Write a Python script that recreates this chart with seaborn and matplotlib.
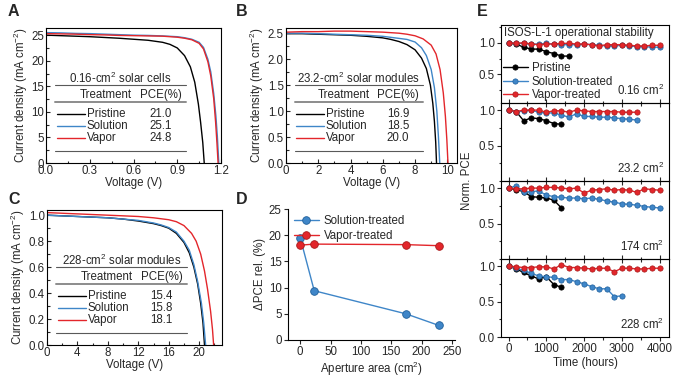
import matplotlib
matplotlib.use('Agg')
import matplotlib.pyplot as plt
from matplotlib.ticker import MultipleLocator
import pandas as pd
import seaborn as sns

sns.set_style('ticks')
plt.rcParams['font.family'] = ['Liberation Sans', 'DejaVu Sans']
plt.rcParams['mathtext.default'] = 'regular'
plt.rcParams['font.size'] = 8.3
plt.rcParams['axes.linewidth'] = 0.8
plt.rcParams['axes.edgecolor'] = 'black'

FS = 8.3
c_pri = 'black'
c_sol = '#3f86c8'
c_vap = '#e3262b'

treatments = ['Pristine', 'Solution', 'Vapor']

# ---- A: 0.16 cm2 cells ----
a_pri_v = [0, 0.1, 0.2, 0.3, 0.4, 0.5, 0.6, 0.7, 0.8, 0.85, 0.9, 0.95, 0.99, 1.02, 1.045, 1.06, 1.075, 1.085]
a_pri_j = [25.0, 24.9, 24.8, 24.7, 24.55, 24.4, 24.2, 24.0, 23.6, 23.2, 22.5, 21.0, 18.8, 15.8, 11.5, 8.0, 4.0, 0]
a_sol_v = [0, 0.1, 0.2, 0.3, 0.4, 0.5, 0.6, 0.7, 0.8, 0.9, 0.95, 1.0, 1.05, 1.08, 1.11, 1.13, 1.15, 1.165, 1.175, 1.185]
a_sol_j = [25.5, 25.45, 25.35, 25.3, 25.2, 25.1, 25.0, 24.95, 24.85, 24.7, 24.5, 24.2, 23.6, 22.6, 20.3, 17.8, 13.6, 9.2, 5.2, 0]
a_vap_v = [0, 0.1, 0.2, 0.3, 0.4, 0.5, 0.6, 0.7, 0.8, 0.9, 0.95, 1.0, 1.05, 1.08, 1.11, 1.13, 1.15, 1.163, 1.172, 1.18]
a_vap_j = [25.3, 25.25, 25.2, 25.1, 25.05, 24.95, 24.9, 24.85, 24.8, 24.6, 24.4, 24.1, 23.4, 22.3, 19.8, 17.0, 12.6, 8.0, 4.0, 0]
a_pce = [21.0, 25.1, 24.8]

# ---- B: 23.2 cm2 modules ----
b_pri_v = [0, 1, 2, 3, 4, 5, 6, 6.5, 7, 7.5, 8, 8.4, 8.7, 8.95, 9.1, 9.2, 9.28, 9.33]
b_pri_j = [2.49, 2.49, 2.48, 2.47, 2.46, 2.44, 2.41, 2.38, 2.34, 2.28, 2.18, 2.02, 1.82, 1.5, 1.15, 0.8, 0.4, 0]
b_sol_v = [0, 1, 2, 3, 4, 5, 6, 6.5, 7, 7.5, 8, 8.4, 8.7, 9.0, 9.2, 9.35, 9.45, 9.53]
b_sol_j = [2.50, 2.50, 2.49, 2.48, 2.47, 2.46, 2.44, 2.42, 2.40, 2.38, 2.33, 2.22, 2.07, 1.8, 1.45, 1.0, 0.5, 0]
b_vap_v = [0, 1, 2, 3, 4, 5, 6, 7, 7.5, 8, 8.5, 9, 9.3, 9.55, 9.75, 9.88, 9.97, 10.04]
b_vap_j = [2.52, 2.53, 2.53, 2.54, 2.54, 2.53, 2.52, 2.50, 2.48, 2.45, 2.39, 2.27, 2.1, 1.8, 1.35, 0.9, 0.45, 0]
b_pce = [16.9, 18.5, 20.0]

# ---- C: 228 cm2 modules ----
c_pri_v = [0, 2, 4, 6, 8, 10, 12, 13, 14, 15, 16, 17, 18, 18.7, 19.3, 19.8, 20.2, 20.5, 20.7]
c_pri_j = [1.0, 0.995, 0.99, 0.985, 0.98, 0.97, 0.955, 0.945, 0.935, 0.92, 0.9, 0.86, 0.79, 0.71, 0.6, 0.47, 0.32, 0.17, 0]
c_sol_v = [0, 2, 4, 6, 8, 10, 12, 13, 14, 15, 16, 17, 18, 18.7, 19.3, 19.8, 20.3, 20.6, 20.85]
c_sol_j = [1.0, 0.995, 0.99, 0.985, 0.98, 0.97, 0.96, 0.95, 0.94, 0.925, 0.905, 0.87, 0.80, 0.73, 0.62, 0.49, 0.32, 0.17, 0]
c_vap_v = [0, 2, 4, 6, 8, 10, 12, 14, 16, 17, 18, 19, 19.6, 20.2, 20.7, 21.1, 21.5, 21.75, 21.9]
c_vap_j = [1.02, 1.015, 1.01, 1.005, 1.0, 0.995, 0.99, 0.98, 0.965, 0.95, 0.92, 0.86, 0.8, 0.7, 0.57, 0.43, 0.26, 0.12, 0]
c_pce = [15.4, 15.8, 18.1]

# ---- D: relative PCE gain vs aperture area ----
area = [0.16, 23.2, 174, 228]
d_sol = [19.5, 9.4, 5.0, 2.8]
d_vap = [18.1, 18.3, 18.2, 18.0]

# ---- E: operational stability ----
hours = [0, 200, 400, 600, 800, 1000, 1200, 1400, 1600, 1800, 2000,
         2200, 2400, 2600, 2800, 3000, 3200, 3400, 3600, 3800, 4000]
pri_016 = [1.0, 0.98, 0.93, 0.90, 0.90, 0.86, 0.83, 0.79, 0.79]
sol_016 = [1.0, 0.99, 0.99, 0.98, 0.98, 0.99, 0.98, 0.97, 0.97, 0.97, 0.98, 0.97, 0.96, 0.95, 0.95, 0.96, 0.95, 0.94, 0.94, 0.93, 0.93]
vap_016 = [1.0, 0.99, 1.0, 0.98, 0.97, 0.98, 0.98, 0.99, 0.99, 0.98, 0.98, 0.97, 0.95, 0.97, 0.97, 0.97, 0.96, 0.95, 0.95, 0.96, 0.96]
pri_232 = [1.0, 0.98, 0.85, 0.89, 0.88, 0.85, 0.81, 0.80]
sol_232 = [1.0, 0.97, 0.99, 1.0, 0.97, 0.96, 0.96, 0.93, 0.90, 0.95, 0.91, 0.91, 0.90, 0.90, 0.89, 0.88, 0.87, 0.86]
vap_232 = [1.0, 0.98, 1.0, 1.0, 1.0, 0.97, 0.99, 0.99, 0.97, 1.0, 0.99, 0.98, 0.98, 0.98, 0.98, 0.97, 0.97, 0.97]
pri_174 = [1.0, 0.98, 0.95, 0.88, 0.87, 0.86, 0.83, 0.72]
sol_174 = [1.0, 1.03, 0.94, 0.95, 0.96, 0.90, 0.88, 0.87, 0.86, 0.86, 0.85, 0.86, 0.84, 0.82, 0.80, 0.78, 0.77, 0.76, 0.74, 0.73, 0.72]
vap_174 = [1.0, 0.99, 0.99, 1.0, 1.0, 1.01, 1.01, 1.0, 0.99, 1.0, 0.93, 0.97, 0.98, 0.99, 0.97, 0.98, 0.97, 0.94, 0.99, 0.98, 0.97]
pri_228 = [1.0, 0.96, 0.91, 0.86, 0.82, 0.85, 0.74, 0.70]
sol_228 = [1.0, 0.97, 0.94, 0.90, 0.86, 0.85, 0.84, 0.81, 0.81, 0.78, 0.75, 0.71, 0.68, 0.68, 0.57, 0.58]
vap_228 = [1.0, 0.99, 0.98, 0.98, 0.99, 0.99, 0.96, 1.02, 0.98, 0.98, 0.97, 0.96, 0.97, 0.97, 0.92, 0.97, 0.97, 0.96, 0.96, 0.97, 0.97]
e_labels = ['0.16 cm$^2$', '23.2 cm$^2$', '174 cm$^2$', '228 cm$^2$']

W, H = 680, 381


def box(l, t, r, b):
    # pixel box -> figure fraction
    return [l / W, 1 - b / H, (r - l) / W, (b - t) / H]


fig = plt.figure(figsize=(6.8, 3.81), dpi=100)


def jv_table(ax, title, pces):
    tr = ax.transAxes
    x0, x1 = 0.05, 0.8
    ax.text((x0 + x1) / 2, 0.625, title, transform=tr, ha='center', va='center')
    ax.plot([x0, x1], [0.575, 0.575], transform=tr, color='0.35', lw=0.8)
    ax.text(0.49, 0.505, 'Treatment', transform=tr, ha='right', va='center')
    ax.text(0.655, 0.505, 'PCE(%)', transform=tr, ha='center', va='center')
    ax.plot([x0, x1], [0.45, 0.45], transform=tr, color='0.55', lw=1.4)
    for i, (name, p, c) in enumerate(zip(treatments, pces, [c_pri, c_sol, c_vap])):
        y = 0.365 - i * 0.09
        ax.plot([0.06, 0.225], [y, y], transform=tr, color=c, lw=1)
        ax.text(0.232, y, name, transform=tr, va='center')
        ax.text(0.655, y, f'{p:.1f}', transform=tr, ha='center', va='center')
    ax.plot([x0, x1], [0.09, 0.09], transform=tr, color='0.35', lw=0.8)


def jv_panel(ax, curves, xlim, ylim, xmaj, xmin, ymaj, ymin, title, pces, yfmt):
    for v, j, c in curves:
        sns.lineplot(x=v, y=j, ax=ax, color=c, lw=1, sort=False, estimator=None)
    ax.set_xlim(*xlim)
    ax.set_ylim(*ylim)
    ax.xaxis.set_major_locator(MultipleLocator(xmaj))
    ax.xaxis.set_minor_locator(MultipleLocator(xmin))
    ax.yaxis.set_major_locator(MultipleLocator(ymaj))
    ax.yaxis.set_minor_locator(MultipleLocator(ymin))
    ax.yaxis.set_major_formatter(yfmt)
    ax.tick_params(which='both', direction='in', width=0.8, labelsize=FS, pad=1.5)
    ax.tick_params(which='major', length=3)
    ax.tick_params(which='minor', length=1.8)
    ax.set_xlabel('Voltage (V)', labelpad=0)
    ax.set_ylabel('Current density (mA cm$^{-2}$)', labelpad=1)
    jv_table(ax, title, pces)


axA = fig.add_axes(box(46, 28, 221, 163))
jv_panel(axA, [(a_pri_v, a_pri_j, c_pri), (a_sol_v, a_sol_j, c_sol), (a_vap_v, a_vap_j, c_vap)],
         (0, 1.2), (0, 26.4), 0.3, 0.15, 5, 2.5, '0.16-cm$^2$ solar cells', a_pce, '{x:.0f}')
axA.set_xticks([0, 0.3, 0.6, 0.9, 1.2])
axA.xaxis.set_major_formatter('{x:.1f}')

axB = fig.add_axes(box(286, 28, 457, 163))
jv_panel(axB, [(b_pri_v, b_pri_j, c_pri), (b_sol_v, b_sol_j, c_sol), (b_vap_v, b_vap_j, c_vap)],
         (0, 10.6), (0, 2.6), 2, 1, 0.5, 0.25, '23.2-cm$^2$ solar modules', b_pce, '{x:.1f}')

axC = fig.add_axes(box(47, 210, 222, 345))
jv_panel(axC, [(c_pri_v, c_pri_j, c_pri), (c_sol_v, c_sol_j, c_sol), (c_vap_v, c_vap_j, c_vap)],
         (0, 23), (0, 1.04), 4, 2, 0.2, 0.1, '228-cm$^2$ solar modules', c_pce, '{x:.1f}')

# ---- D ----
axD = fig.add_axes(box(288, 209, 455, 340))
sns.lineplot(x=area, y=d_sol, ax=axD, color=c_sol, lw=1, marker='o', markersize=5.5,
             markeredgecolor='#1f5f9a', markeredgewidth=0.6, label='Solution-treated')
sns.lineplot(x=area, y=d_vap, ax=axD, color=c_vap, lw=1, marker='o', markersize=5.5,
             markeredgecolor='#a81a1a', markeredgewidth=0.6, label='Vapor-treated')
axD.set_xlim(-20, 255)
axD.set_ylim(0, 25)
axD.xaxis.set_major_locator(MultipleLocator(50))
axD.yaxis.set_major_locator(MultipleLocator(5))
axD.tick_params(direction='out', length=3, width=0.8, labelsize=FS, pad=1.5)
sns.despine(ax=axD)
axD.set_xlabel('Aperture area (cm$^2$)', labelpad=1)
axD.set_ylabel('\u0394PCE rel. (%)', labelpad=2)
axD.legend(loc='upper left', frameon=False, fontsize=FS, handlelength=2.2,
           borderaxespad=0.1, labelspacing=0.25, handletextpad=0.4)

# ---- E ----
e_sets = [(pri_016, sol_016, vap_016), (pri_232, sol_232, vap_232),
          (pri_174, sol_174, vap_174), (pri_228, sol_228, vap_228)]
e_top, e_bot = 25, 337
step = (e_bot - e_top) / 4
axesE = []
for k, (pri, sol, vap) in enumerate(e_sets):
    ax = fig.add_axes(box(501, e_top + k * step, 669, e_top + (k + 1) * step))
    ax.patch.set_alpha(0)
    for vals, c, ec, lab in [(pri, c_pri, 'black', 'Pristine'),
                             (sol, c_sol, '#1f5f9a', 'Solution-treated'),
                             (vap, c_vap, '#a81a1a', 'Vapor-treated')]:
        sns.lineplot(x=hours[:len(vals)], y=vals, ax=ax, color=c, lw=1, marker='o',
                     markersize=3.8, markeredgecolor=ec, markeredgewidth=0.5,
                     label=lab if k == 0 else None, legend=False)
    ax.set_xlim(-200, 4250)
    if k == 0:
        ax.set_ylim(0.05, 1.28)
    else:
        ax.set_ylim(0, 1.1)
    ax.xaxis.set_major_locator(MultipleLocator(1000))
    ax.xaxis.set_minor_locator(MultipleLocator(500))
    ax.yaxis.set_major_locator(MultipleLocator(0.5))
    ax.yaxis.set_minor_locator(MultipleLocator(0.25))
    ax.yaxis.set_major_formatter('{x:.1f}')
    ax.tick_params(which='both', direction='out', width=0.8, labelsize=FS, pad=1.5,
                   top=(k > 0))
    ax.tick_params(which='major', length=3)
    ax.tick_params(which='minor', length=1.8)
    if k < 3:
        ax.tick_params(labelbottom=False)
        ax.set_yticks([0.5, 1.0])
    else:
        ax.set_yticks([0.0, 0.5, 1.0])
        ax.set_xlabel('Time (hours)', labelpad=1)
    ax.set_ylabel('')
    ax.text(0.97, 0.16, e_labels[k], transform=ax.transAxes, ha='right', va='center')
    axesE.append(ax)

axesE[0].text(0.015, 0.97, 'ISOS-L-1 operational stability', transform=axesE[0].transAxes,
              ha='left', va='top')
h, l = axesE[0].get_legend_handles_labels()
axesE[0].legend(h, l, loc='lower left', frameon=False, fontsize=FS, handlelength=2.2,
                borderaxespad=0.05, labelspacing=0.15, handletextpad=0.3,
                borderpad=0.1)
fig.text(467 / W, 1 - 181 / H, 'Norm. PCE', rotation=90, ha='center', va='center')

# panel letters
for s, (px, py) in {'A': (8, 12), 'B': (236, 12), 'C': (8, 200), 'D': (236, 200),
                    'E': (477, 12)}.items():
    fig.text(px / W, 1 - py / H, s, fontsize=11.5, fontweight='bold', ha='left', va='center',
             family=['Liberation Sans Narrow', 'Liberation Sans'])

fig.savefig('out.png', dpi=100)
